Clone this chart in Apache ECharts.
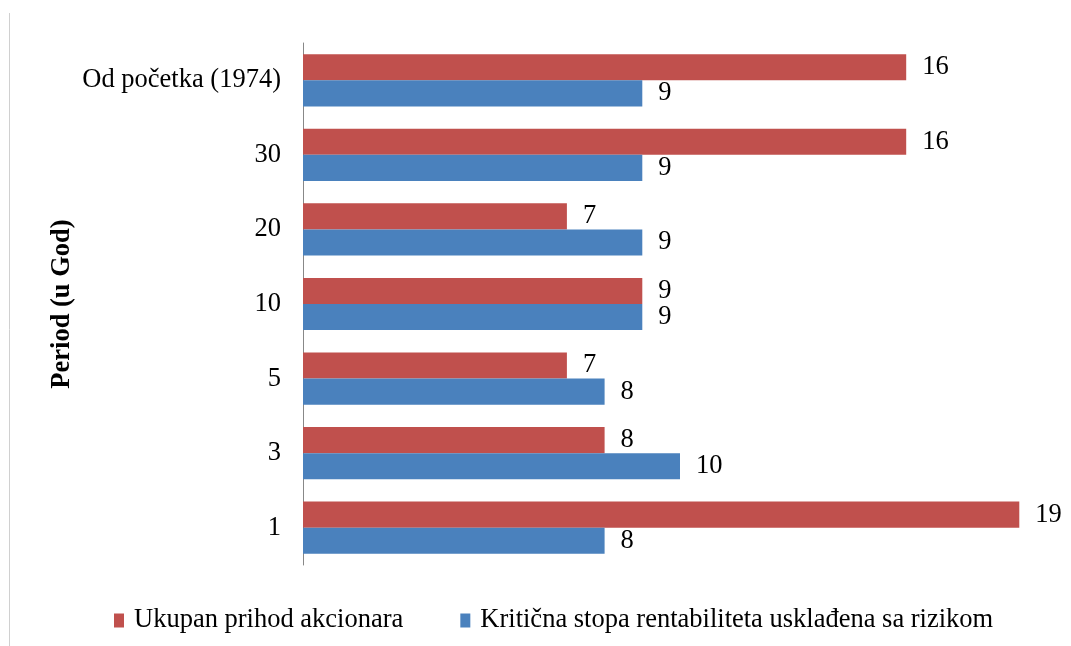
<!DOCTYPE html>
<html>
<head>
<meta charset="utf-8">
<script src="https://cdn.jsdelivr.net/npm/echarts@6/dist/echarts.min.js"></script>
<style>html,body{margin:0;padding:0;background:#fff}#c{width:1071px;height:646px}</style>
</head>
<body>
<div id="c"></div>
<script>
var categories = ['1', '3', '5', '10', '20', '30', 'Od početka (1974)'];
var seriesNames = ['Ukupan prihod akcionara', 'Kritična stopa rentabiliteta usklađena sa rizikom'];
var ukupanPrihod = [19, 8, 7, 9, 7, 16, 16];
var kriticnaStopa = [8, 10, 8, 9, 9, 9, 9];
var axisTitle = 'Period (u God)';

var font = '"Liberation Serif", "Times New Roman", serif';
var fs = 26.5;
var chart = echarts.init(document.getElementById('c'));
var labelStyle = {show: true, position: 'right', distance: 16, color: '#000', fontFamily: font, fontSize: fs};
chart.setOption({
  animation: false,
  textStyle: {fontFamily: font},
  grid: {left: 303, right: 14, top: 43, bottom: 81, containLabel: false},
  xAxis: {type: 'value', min: 0, max: 20, show: false},
  yAxis: {
    type: 'category', data: categories,
    name: axisTitle, nameLocation: 'middle', nameGap: 227, nameRotate: 90, nameMoveOverlap: false,
    nameTextStyle: {fontFamily: font, fontSize: fs, fontWeight: 'bold', color: '#000'},
    axisLine: {lineStyle: {color: '#888', width: 1}},
    axisTick: {show: false},
    axisLabel: {fontFamily: font, fontSize: fs, color: '#000', margin: 22}
  },
  legend: {
    top: 602, left: 109, itemWidth: 10, itemHeight: 14, itemGap: 57,
    icon: 'rect',
    textStyle: {fontFamily: font, fontSize: fs, color: '#000', padding: [0, 0, 0, 5]},
    data: seriesNames
  },
  series: [
    {name: seriesNames[0], type: 'bar', data: ukupanPrihod, barCategoryGap: '30%', barGap: '0%',
     itemStyle: {color: '#c0504d'}, label: labelStyle},
    {name: seriesNames[1], type: 'bar', data: kriticnaStopa, barCategoryGap: '30%', barGap: '0%',
     itemStyle: {color: '#4a81bd'}, label: labelStyle}
  ],
  graphic: [{type: 'line', shape: {x1: 9.5, y1: 13, x2: 9.5, y2: 646}, style: {stroke: '#d0d0d0', lineWidth: 1}}]
});
</script>
</body>
</html>
